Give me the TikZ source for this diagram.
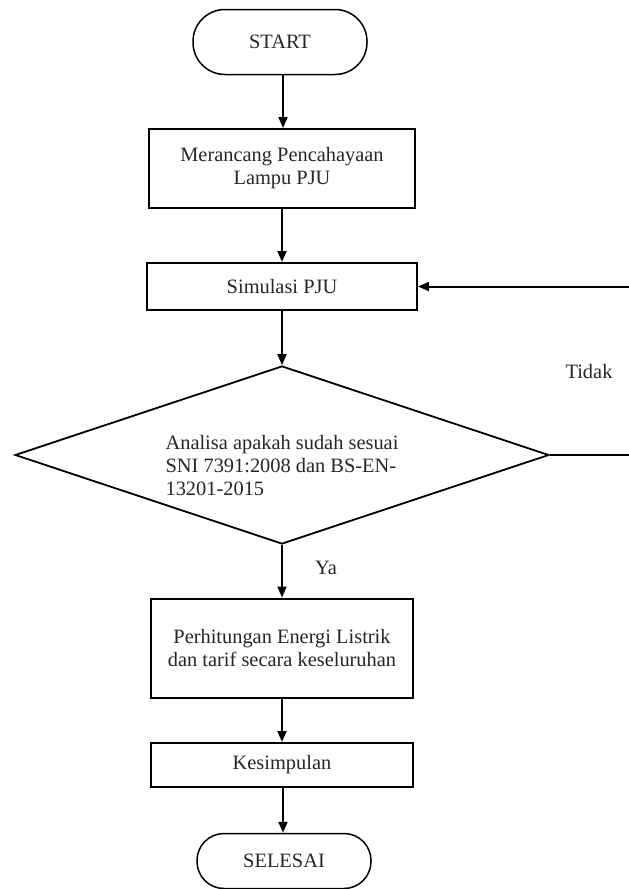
\documentclass[tikz,border=0pt]{standalone}
\usepackage{fontspec}
\setmainfont{Liberation Serif}
\usetikzlibrary{shapes.geometric,arrows.meta}
\begin{document}
\begin{tikzpicture}[x=1pt,y=-1pt,
  every node/.style={font=\fontsize{20.4}{23}\selectfont, text=black!85},
  term/.style={draw, line width=1.5pt, rounded corners=27pt, minimum width=174pt, inner sep=0pt},
  procbox/.style={draw, line width=2pt, align=center, inner sep=0pt},
  decision/.style={draw, shape=diamond, line width=1.8pt, inner sep=0pt, minimum width=534pt, minimum height=178pt},
  flow/.style={draw, line width=2pt, -{Triangle[length=11pt,width=9pt]}},
  plainline/.style={draw, line width=1.8pt}]
\useasboundingbox (0,0) rectangle (629,889);

\node[term, minimum height=65pt, rounded corners=32pt] (start) at (280,42) {START};
\node[procbox, minimum width=266pt, minimum height=79pt] (rancang) at (282,168.5) {Merancang Pencahayaan\\Lampu PJU};
\node[procbox, minimum width=270pt, minimum height=47pt] (sim) at (282,286.5) {Simulasi PJU};
\node[decision] (dec) at (282,455) {};
\node[align=left, inner sep=0pt] (dectext) at (282,466) {Analisa apakah sudah sesuai\\SNI 7391:2008 dan BS-EN-\\13201-2015};
\node[procbox, minimum width=262pt, minimum height=99pt] (hitung) at (282,648) {Perhitungan Energi Listrik\\dan tarif secara keseluruhan};
\node[procbox, minimum width=262pt, minimum height=44pt] (simpul) at (282,765) {Kesimpulan};
\node[term, minimum height=55pt] (selesai) at (284,861) {SELESAI};

\node[inner sep=0pt] (ya) at (326,568) {Ya};
\node[inner sep=0pt] (tidak) at (589,372) {Tidak};

\coordinate (re) at (629,455);
\coordinate (rs) at (629,286.5);

\draw[flow] (start.south -| 283,0) -- (rancang.north -| 283,0);
\draw[flow] (rancang) -- (sim);
\draw[flow] (sim) -- (dec.north);
\draw[flow] (dec.south) -- (hitung);
\draw[flow] (hitung) -- (simpul);
\draw[flow] (simpul.south -| 283,0) -- (selesai.north -| 283,0);
\draw[plainline] (dec.east) -- (re);
\draw[flow] (rs) -- (sim.east);
\end{tikzpicture}
\end{document}
